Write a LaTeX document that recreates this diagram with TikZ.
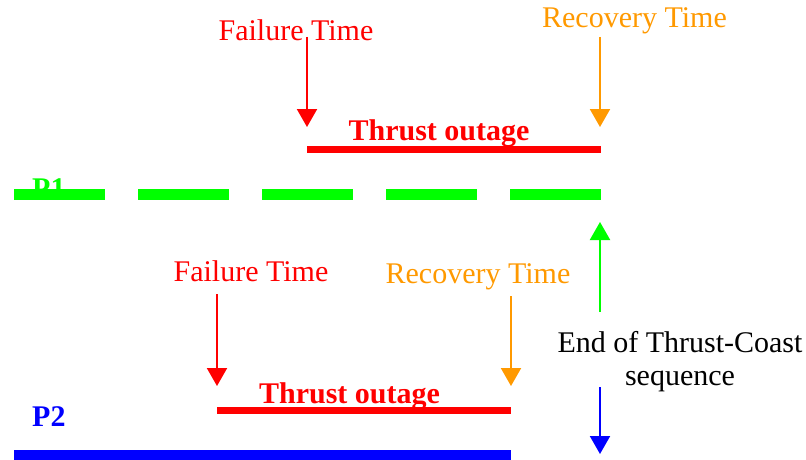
\documentclass[tikz,border=0pt]{standalone}
\usepackage{fontspec}
\setmainfont{Liberation Serif}
\usetikzlibrary{arrows.meta}
\definecolor{pred}{RGB}{255,0,0}
\definecolor{porange}{RGB}{255,153,0}
\definecolor{pgreen}{RGB}{0,255,0}
\definecolor{pblue}{RGB}{0,0,255}
\tikzset{
  lbl/.style={inner sep=0pt, anchor=base, font=\fontsize{30}{34}\selectfont},
  blbl/.style={lbl, font=\fontsize{30}{34}\selectfont\bfseries},
  marker/.style={line width=2pt, -{Triangle[width=20pt,length=18pt]}},
  bar/.style={line cap=butt},
}
\begin{document}
\begin{tikzpicture}[x=1pt,y=-1pt]
\useasboundingbox (0,0) rectangle (806,460);
% top process
\node[lbl, text=pred] (f1) at (296,41) {Failure Time};
\node[lbl, text=porange] (r1) at (634.5,28) {Recovery Time};
\coordinate (f1s) at (307,37);
\coordinate (f1e) at (307,127);
\coordinate (r1s) at (600,37);
\coordinate (r1e) at (600,127);
\draw[marker, pred] (f1s) -- (f1e);
\draw[marker, porange] (r1s) -- (r1e);
\node[blbl, text=pred] (o1) at (439,140) {Thrust outage};
\coordinate (l1a) at (307,149.7);
\coordinate (l1b) at (601,149.7);
\draw[bar, pred, line width=7.5pt] (l1a) -- (l1b);
\node[blbl, text=pgreen, anchor=base west] (p1) at (32,198) {P1};
\coordinate (g1a) at (14,194.5);
\coordinate (g1b) at (601,194.5);
\draw[bar, pgreen, line width=11pt, dash pattern=on 91pt off 33pt] (g1a) -- (g1b);
% end of sequence
\node[lbl, text=black] (e1) at (680,352) {End of Thrust-Coast};
\node[lbl, text=black] (e2) at (680,385) {sequence};
\coordinate (ga) at (600,312);
\coordinate (gb) at (600,222);
\draw[marker, pgreen] (ga) -- (gb);
\coordinate (ba) at (600,387);
\coordinate (bb) at (600,454);
\draw[marker, pblue] (ba) -- (bb);
% bottom process
\node[lbl, text=pred] (f2) at (251,281) {Failure Time};
\node[lbl, text=porange] (r2) at (478,283) {Recovery Time};
\coordinate (f2s) at (217,294);
\coordinate (f2e) at (217,386);
\coordinate (r2s) at (511,296);
\coordinate (r2e) at (511,386);
\draw[marker, pred] (f2s) -- (f2e);
\draw[marker, porange] (r2s) -- (r2e);
\node[blbl, text=pred] (o2) at (349.5,403) {Thrust outage};
\coordinate (l2a) at (217,410.5);
\coordinate (l2b) at (511,410.5);
\draw[bar, pred, line width=7.5pt] (l2a) -- (l2b);
\node[blbl, text=pblue, anchor=base west] (p2) at (32,426) {P2};
\coordinate (b2a) at (14,454.5);
\coordinate (b2b) at (511,454.5);
\draw[bar, pblue, line width=10pt] (b2a) -- (b2b);
\end{tikzpicture}
\end{document}
